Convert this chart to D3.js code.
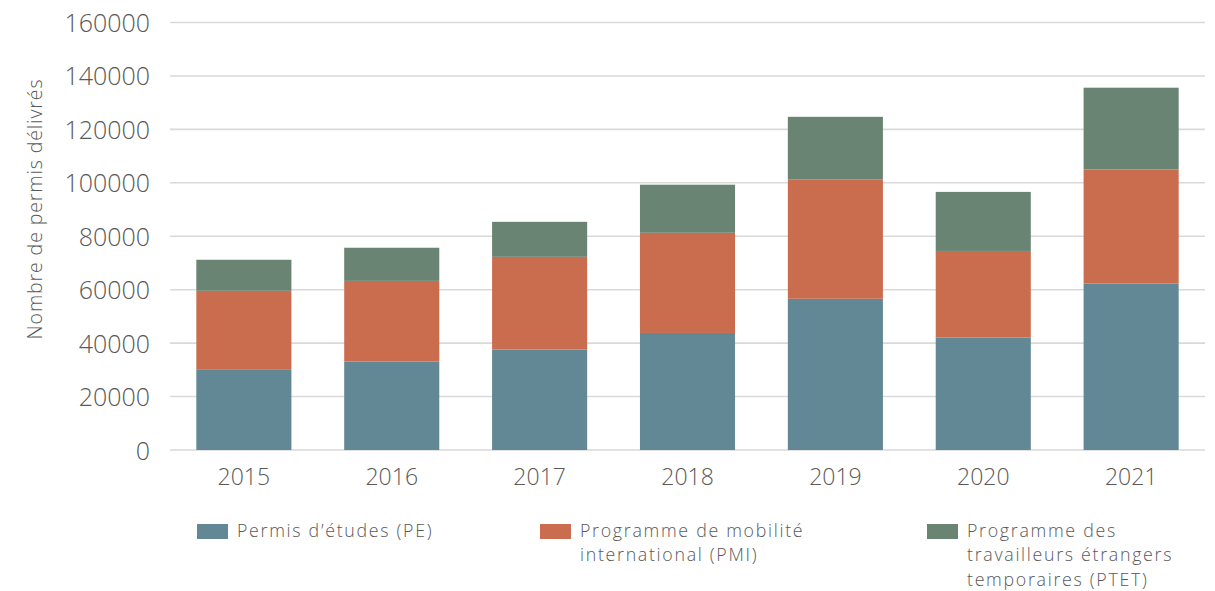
<!DOCTYPE html>
<html><head><meta charset="utf-8">
<script src="https://cdn.jsdelivr.net/npm/d3@7"></script>
<style>
html,body{margin:0;padding:0;background:#fff;}
text{font-family:"Open Sans",sans-serif;font-weight:300;fill:#595959;}
</style></head>
<body><svg id="c" width="1215" height="591"></svg>
<script>
const years = ["2015","2016","2017","2018","2019","2020","2021"];
const pe   = [30000, 33100, 37600, 43800, 56600, 42100, 62300];
const pmi  = [29600, 30200, 34700, 37500, 44600, 32400, 42700];
const ptet = [11600, 12400, 13100, 18000, 23500, 22100, 30600];
const seriesNames = [["Permis d’études (PE)"],["Programme de mobilité","international (PMI)"],["Programme des","travailleurs étrangers","temporaires (PTET)"]];
const seriesKeys = ["pe","pmi","ptet"];
const colors = ["#628795","#CA6D4F","#698473"];
const yTicks = [0,20000,40000,60000,80000,100000,120000,140000,160000];
const yTitle = "Nombre de permis délivrés";

const svg = d3.select("#c");
const rows = years.map((y,i)=>({year:y, pe:pe[i], pmi:pmi[i], ptet:ptet[i]}));
const stack = d3.stack().keys(seriesKeys)(rows);

const x = d3.scaleBand().domain(years).range([170,1205]).paddingInner(0.357).paddingOuter(0.178);
const y = d3.scaleLinear().domain([0,160000]).range([450,22.5]);

// gridlines
svg.append("g").selectAll("line").data(yTicks).join("line")
  .attr("x1",170).attr("x2",1205)
  .attr("y1",d=>y(d)).attr("y2",d=>y(d))
  .attr("stroke","#d9d9d9").attr("stroke-width",1.6);

// y axis labels
const yAxis = svg.append("g").attr("transform","translate(150,0)")
  .call(d3.axisLeft(y).tickValues(yTicks).tickSize(0).tickPadding(0).tickFormat(d3.format("d")));
yAxis.select(".domain").remove();
yAxis.selectAll("text").style("font-size","25px").style("font-family","'Open Sans',sans-serif").style("font-weight","300").attr("fill","#595959").attr("dy","0.36em");

// bars
svg.append("g").selectAll("g").data(stack).join("g")
  .attr("fill",(d,i)=>colors[i])
  .selectAll("rect").data(d=>d).join("rect")
  .attr("x",d=>x(d.data.year)).attr("width",x.bandwidth())
  .attr("y",d=>y(d[1])).attr("height",d=>y(d[0])-y(d[1]));

// x axis labels
const xAxis = svg.append("g").attr("transform","translate(0,468)")
  .call(d3.axisBottom(x).tickSize(0).tickPadding(0));
xAxis.select(".domain").remove();
xAxis.selectAll("text").style("font-size","23px").style("font-family","'Open Sans',sans-serif").style("font-weight","300").attr("fill","#595959").attr("dy","0.75em");

// y title
svg.append("text").attr("transform","translate(42,209) rotate(-90)")
  .attr("text-anchor","middle").style("font-size","19.5px").style("letter-spacing","0.9px").text(yTitle);

// legend
const legX = [197, 540, 927];
const leg = svg.append("g").selectAll("g").data(seriesNames).join("g")
  .attr("transform",(d,i)=>`translate(${legX[i]},524)`);
leg.append("rect").attr("width",31).attr("height",15).attr("fill",(d,i)=>colors[i]);
leg.each(function(lines){
  const g = d3.select(this);
  g.selectAll("text").data(lines).join("text")
    .attr("x",40).attr("y",(d,i)=>13 + i*24.3)
    .style("font-size","17.8px").style("letter-spacing","1.7px")
    .text(d=>d);
});
</script></body></html>
